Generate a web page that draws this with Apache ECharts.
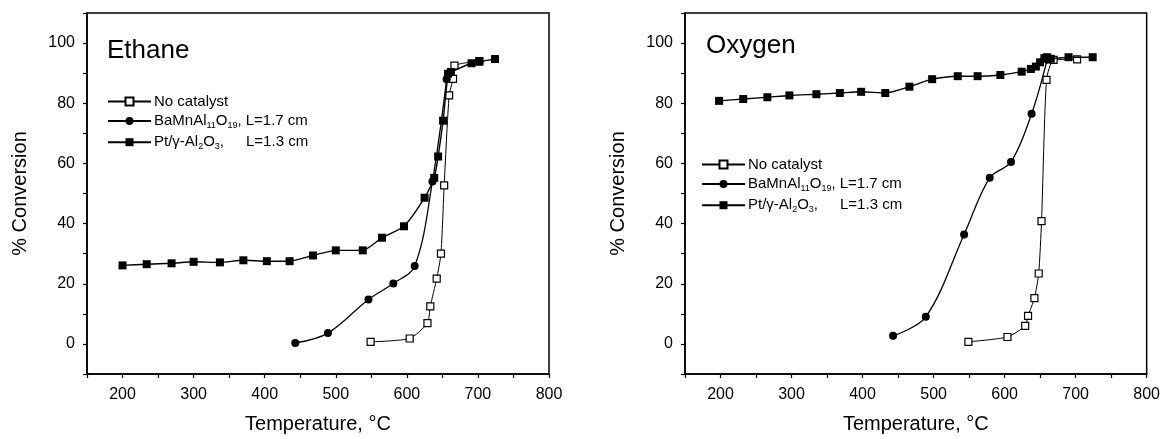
<!DOCTYPE html>
<html>
<head>
<meta charset="utf-8">
<script src="https://cdn.jsdelivr.net/npm/echarts@6/dist/echarts.min.js"></script>
<style>html,body{margin:0;padding:0;background:#fff}#c{width:1163px;height:439px}</style>
</head>
<body>
<div id="c"></div>
<script>
// ---- Data ----
const panelTitles = ['Ethane', 'Oxygen'];
const seriesNames = ['No catalyst', 'BaMnAl11O19', 'Pt/Al2O3'];
const xTickLabels = [200, 300, 400, 500, 600, 700, 800];
const yTickLabels = [0, 20, 40, 60, 80, 100];

// Ethane panel
const ethaneNoCatT = [549, 604, 629, 633, 642, 648, 652.5, 659.5, 665, 667, 702];
const ethaneNoCatV = [0.7, 1.8, 6.9, 12.5, 21.7, 30.0, 52.7, 82.6, 88.1, 92.5, 94.0];
const ethaneBaMnT = [443, 489, 546, 581, 611, 636, 656];
const ethaneBaMnV = [0.3, 3.6, 14.8, 20.1, 25.9, 54, 88];
const ethanePtT = [200, 234, 269, 300, 337, 370, 403, 435, 468, 500, 538, 565, 596, 625, 638.5, 644, 651, 658, 662, 691, 702, 724];
const ethanePtV = [26.1, 26.5, 26.8, 27.3, 27.1, 27.8, 27.5, 27.5, 29.4, 31.1, 31.1, 35.3, 39.1, 48.6, 55.2, 62.3, 74.2, 89.8, 90.4, 93.3, 93.8, 94.7];

// Oxygen panel
const oxyNoCatT = [549, 604, 629, 633, 642, 648, 652, 659, 669, 702];
const oxyNoCatV = [0.7, 2.3, 6.0, 9.3, 15.2, 23.4, 40.8, 87.8, 94.4, 94.6];
const oxyBaMnT = [443, 489, 543, 579, 609, 638, 660];
const oxyBaMnV = [2.7, 9.0, 36.4, 55.2, 60.5, 76.5, 94.5];
const oxyPtT = [198, 232, 266, 297, 335, 368, 398, 432, 466, 498, 534, 562, 594, 624, 637, 644, 650, 656, 660, 665, 690, 724];
const oxyPtV = [80.8, 81.4, 82.0, 82.6, 83.0, 83.4, 83.8, 83.4, 85.5, 88.0, 89.0, 89.0, 89.4, 90.5, 91.4, 92.2, 93.6, 95.0, 95.3, 94.8, 95.3, 95.3];

// ---- Build chart ----
const FONT = '"Liberation Sans", Arial, sans-serif';
const zip = (a, b) => a.map((v, i) => [v, b[i]]);

function xAxis(gi) {
  return {
    type: 'value', gridIndex: gi, min: 150, max: 800, interval: 50,
    name: 'Temperature, °C', nameLocation: 'middle', nameGap: 40,
    nameTextStyle: { fontFamily: FONT, fontSize: 20, color: '#000' },
    axisLine: { onZero: false, lineStyle: { color: '#000', width: 1.5 } },
    axisTick: { length: 4, lineStyle: { color: '#000', width: 1.2 } },
    axisLabel: {
      fontFamily: FONT, fontSize: 16, color: '#000', margin: 13,
      formatter: v => xTickLabels.includes(v) ? String(v) : ''
    },
    splitLine: { show: false }
  };
}
function yAxis(gi) {
  return {
    type: 'value', gridIndex: gi, min: -10, max: 110, interval: 10,
    name: '% Conversion', nameLocation: 'middle', nameGap: 57,
    nameTextStyle: { fontFamily: FONT, fontSize: 20, color: '#000' },
    axisLine: { onZero: false, lineStyle: { color: '#000', width: 1.5 } },
    axisTick: { length: 4, lineStyle: { color: '#000', width: 1.2 } },
    axisLabel: {
      fontFamily: FONT, fontSize: 16, color: '#000', margin: 12,
      formatter: v => yTickLabels.includes(v) ? String(v) : ''
    },
    splitLine: { show: false }
  };
}

function makeSeries(gi, nT, nV, bT, bV, pT, pV) {
  return [
    {
      name: seriesNames[0], type: 'line', xAxisIndex: gi, yAxisIndex: gi,
      data: zip(nT, nV), smooth: 0.2,
      symbol: 'rect', symbolSize: 7,
      lineStyle: { color: '#000', width: 1 },
      itemStyle: { color: '#fff', borderColor: '#000', borderWidth: 1.2 },
      z: 3
    },
    {
      name: seriesNames[1], type: 'line', xAxisIndex: gi, yAxisIndex: gi,
      data: zip(bT, bV), smooth: 0.35,
      symbol: 'circle', symbolSize: 8,
      lineStyle: { color: '#000', width: 1.3 },
      itemStyle: { color: '#000', borderColor: '#000', borderWidth: 0 },
      z: 4
    },
    {
      name: seriesNames[2], type: 'line', xAxisIndex: gi, yAxisIndex: gi,
      data: zip(pT, pV), smooth: 0.2,
      symbol: 'rect', symbolSize: 8,
      lineStyle: { color: '#000', width: 1.4 },
      itemStyle: { color: '#000', borderColor: '#000', borderWidth: 0 },
      z: 5
    }
  ];
}

const rich = {
  t: { fontFamily: FONT, fontSize: 15, color: '#000', lineHeight: 18 },
  s: { fontFamily: FONT, fontSize: 9, color: '#000', lineHeight: 18, verticalAlign: 'bottom' },
  g1: { width: 4, lineHeight: 18 },
  g2: { width: 22, lineHeight: 18 }
};
function legendFmt(name) {
  if (name === seriesNames[0]) return '{t|No catalyst}';
  if (name === seriesNames[1]) return '{t|BaMnAl}{s|11}{t|O}{s|19}{t|,}{g1|}{t|L=1.7 cm}';
  return '{t|Pt/γ-Al}{s|2}{t|O}{s|3}{t|,}{g2|}{t|L=1.3 cm}';
}
function legend(left, top) {
  return {
    left, top, orient: 'vertical', padding: 0,
    itemWidth: 43, itemHeight: 10, itemGap: 4.6,
    data: seriesNames, selectedMode: false,
    formatter: legendFmt,
    textStyle: { rich, padding: [0, 0, 0, -2] }
  };
}

const option = {
  animation: false,
  backgroundColor: '#fff',
  title: [
    { text: panelTitles[0], left: 102, top: 33, textStyle: { fontFamily: FONT, fontSize: 26, fontWeight: 'normal', color: '#000' } },
    { text: panelTitles[1], left: 701, top: 28, textStyle: { fontFamily: FONT, fontSize: 26, fontWeight: 'normal', color: '#000' } }
  ],
  grid: [
    { left: 87, top: 13, width: 462, height: 362, show: true, borderColor: '#000', borderWidth: 1.5, backgroundColor: 'transparent' },
    { left: 685, top: 13, width: 465, height: 362, show: true, borderColor: '#000', borderWidth: 1.5, backgroundColor: 'transparent' }
  ],
  xAxis: [xAxis(0), xAxis(1)],
  yAxis: [yAxis(0), yAxis(1)],
  legend: [legend(107, 94), legend(701, 157)],
  series: [
    ...makeSeries(0, ethaneNoCatT, ethaneNoCatV, ethaneBaMnT, ethaneBaMnV, ethanePtT, ethanePtV),
    ...makeSeries(1, oxyNoCatT, oxyNoCatV, oxyBaMnT, oxyBaMnV, oxyPtT, oxyPtV)
  ]
};

const chart = echarts.init(document.getElementById('c'), null, { renderer: 'canvas' });
chart.setOption(option);
</script>
</body>
</html>
